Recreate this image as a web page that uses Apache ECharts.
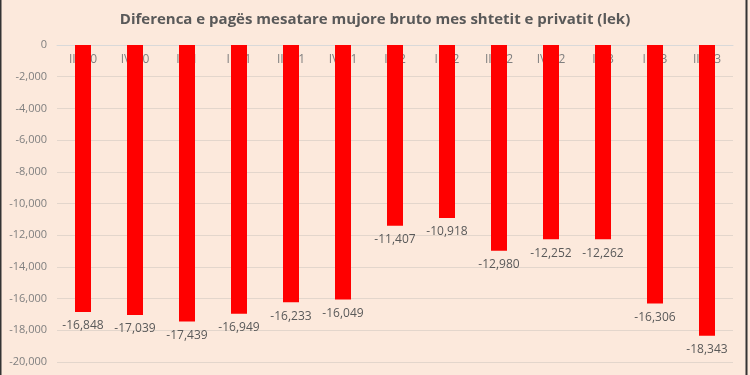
<!DOCTYPE html>
<html><head><meta charset="utf-8">
<script src="https://cdn.jsdelivr.net/npm/echarts@6/dist/echarts.min.js"></script>
<style>html,body{margin:0;padding:0;background:#FCE9DC;}#c{width:750px;height:375px;}</style>
</head><body><div id="c"></div>
<script>
const categories = ['III/20','IV/20','I/21','II/21','III/21','IV/21','I/22','II/22','III/22','IV/22','I/23','II/23','III/23'];
const values = [-16848,-17039,-17439,-16949,-16233,-16049,-11407,-10918,-12980,-12252,-12262,-16306,-18343];
const yTicks = {min:-20000, max:0, interval:2000};
const title = 'Diferenca e pagës mesatare mujore bruto mes shtetit e privatit (lek)';

const chart = echarts.init(document.getElementById('c'));
const fmt = v => v.toLocaleString('en-US');
chart.setOption({
  backgroundColor:'#FCE9DC',
  animation:false,
  title:{text:title,left:'center',top:7,textStyle:{fontFamily:'Open Sans',fontSize:15,fontWeight:'bold',color:'#595959'}},
  graphic:[{type:'rect',shape:{x:0.5,y:-1,width:746,height:380},style:{fill:'none',stroke:'#333',lineWidth:2},silent:true}],
  grid:{left:57,right:17,top:45,bottom:13,containLabel:false},
  xAxis:{type:'category',data:categories,position:'top',
    axisLine:{lineStyle:{color:'#d9d9d9'}},axisTick:{show:false},
    axisLabel:{inside:true,color:'#7f7f7f',fontFamily:'Open Sans',fontSize:12,margin:9}},
  yAxis:{type:'value',min:yTicks.min,max:yTicks.max,interval:yTicks.interval,
    axisLine:{show:false},axisTick:{show:false},
    splitLine:{lineStyle:{color:'#e3d6cc'}},
    axisLabel:{color:'#7f7f7f',fontFamily:'Open Sans',fontSize:11,margin:10,formatter:v=>fmt(v)}},
  series:[{type:'bar',data:values,barWidth:16,z:5,itemStyle:{color:'#FF0000'},
    label:{show:true,position:'bottom',distance:8,color:'#595959',fontFamily:'Open Sans',fontSize:12,formatter:p=>fmt(p.value)}}]
});
</script></body></html>
